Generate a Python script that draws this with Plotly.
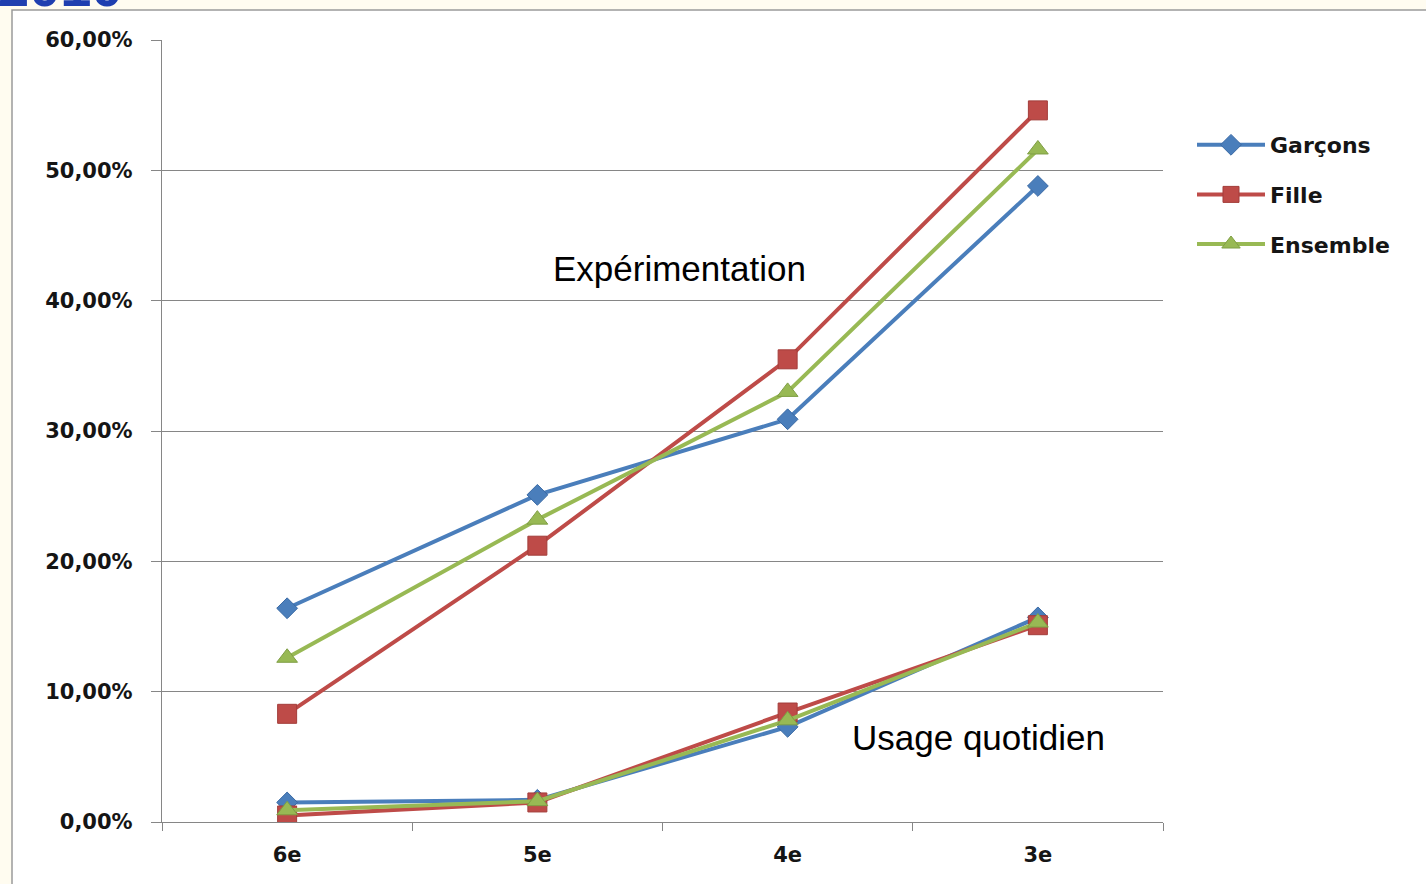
import plotly.graph_objects as go

categories = ["6e", "5e", "4e", "3e"]
series_names = ["Garçons", "Fille", "Ensemble"]

exp_garcons = [0.164, 0.251, 0.309, 0.488]
exp_fille = [0.083, 0.212, 0.355, 0.546]
exp_ensemble = [0.126, 0.232, 0.330, 0.516]

quot_garcons = [0.015, 0.017, 0.073, 0.157]
quot_fille = [0.005, 0.015, 0.084, 0.151]
quot_ensemble = [0.009, 0.016, 0.078, 0.153]

y_tickvals = [0, 0.1, 0.2, 0.3, 0.4, 0.5, 0.6]
y_ticktext = ["0,00%", "10,00%", "20,00%", "30,00%", "40,00%", "50,00%", "60,00%"]

colors = ["#4a7ebb", "#be4b48", "#98b954"]
edge = ["#3a6aa5", "#a33d3a", "#7f9e44"]
symbols = ["diamond", "square", "triangle-up"]
sizes = [16, 19, 18]

W, H = 1426, 884
fig = go.Figure()

exp = [exp_garcons, exp_fille, exp_ensemble]
quot = [quot_garcons, quot_fille, quot_ensemble]

for i in range(3):
    fig.add_trace(go.Scatter(
        x=categories, y=quot[i], mode="lines+markers", name=series_names[i],
        legendgroup="g%d" % i, showlegend=False,
        line=dict(color=colors[i], width=4),
        marker=dict(symbol=symbols[i], size=sizes[i], color=colors[i],
                    line=dict(color=edge[i], width=1)),
    ))
for i in range(3):
    fig.add_trace(go.Scatter(
        x=categories, y=exp[i], mode="lines+markers", name=series_names[i],
        legendgroup="g%d" % i, showlegend=True,
        line=dict(color=colors[i], width=4),
        marker=dict(symbol=symbols[i], size=sizes[i], color=colors[i],
                    line=dict(color=edge[i], width=1)),
    ))

tick_font = dict(family="DejaVu Sans", size=21, color="#151515", weight="bold")

fig.update_layout(
    width=W, height=H, autosize=False,
    margin=dict(l=0, r=0, t=0, b=0, autoexpand=False),
    paper_bgcolor="#fffcf0",
    plot_bgcolor="white",
    showlegend=True,
    legend=dict(
        x=1192 / W, y=1 - 124 / H, xanchor="left", yanchor="top",
        font=dict(family="DejaVu Sans", size=22, color="#151515", weight="bold"),
        bgcolor="rgba(0,0,0,0)", tracegroupgap=18, itemwidth=68,
    ),
    xaxis=dict(
        domain=[162 / W, 1163 / W],
        type="category", range=[-0.5, 3.5],
        tickson="boundaries", ticks="outside", ticklen=8, tickcolor="#868686",
        showline=True, linecolor="#868686", linewidth=1.3,
        showgrid=False, tickfont=tick_font, zeroline=False,
        ticklabelstandoff=14,
    ),
    yaxis=dict(
        domain=[(H - 822) / H, (H - 40) / H],
        range=[0, 0.6], tickvals=y_tickvals, ticktext=y_ticktext,
        ticks="outside", ticklen=10, tickcolor="#868686",
        showline=True, linecolor="#868686", linewidth=1.3,
        showgrid=True, gridcolor="#868686", gridwidth=1.2,
        zeroline=False, tickfont=tick_font, ticklabelstandoff=14,
    ),
    shapes=[
        dict(type="rect", xref="paper", yref="paper", x0=12 / W, x1=1.01, y0=-0.01, y1=1 - 10 / H,
             fillcolor="white", line=dict(color="#9a9a9a", width=1.5), layer="below"),
    ],
    annotations=[
        dict(text="Expérimentation", x=679 / W, y=1 - 268 / H, xref="paper", yref="paper",
             showarrow=False, xanchor="center", yanchor="middle",
             font=dict(family="Liberation Sans", size=35, color="black")),
        dict(text="Usage quotidien", x=978 / W, y=1 - 737 / H, xref="paper", yref="paper",
             showarrow=False, xanchor="center", yanchor="middle",
             font=dict(family="Liberation Sans", size=35, color="black")),
        dict(text="<b>2010</b>", x=-4 / W, y=1 + 14 / H, xref="paper", yref="paper",
             showarrow=False, xanchor="left", yanchor="middle",
             font=dict(family="Liberation Sans", size=56, color="#1f3fb0")),
    ],
)

fig.write_html("out.html", config={"displayModeBar": False},
               post_script="document.body.style.margin='0';document.body.style.overflow='hidden';")
